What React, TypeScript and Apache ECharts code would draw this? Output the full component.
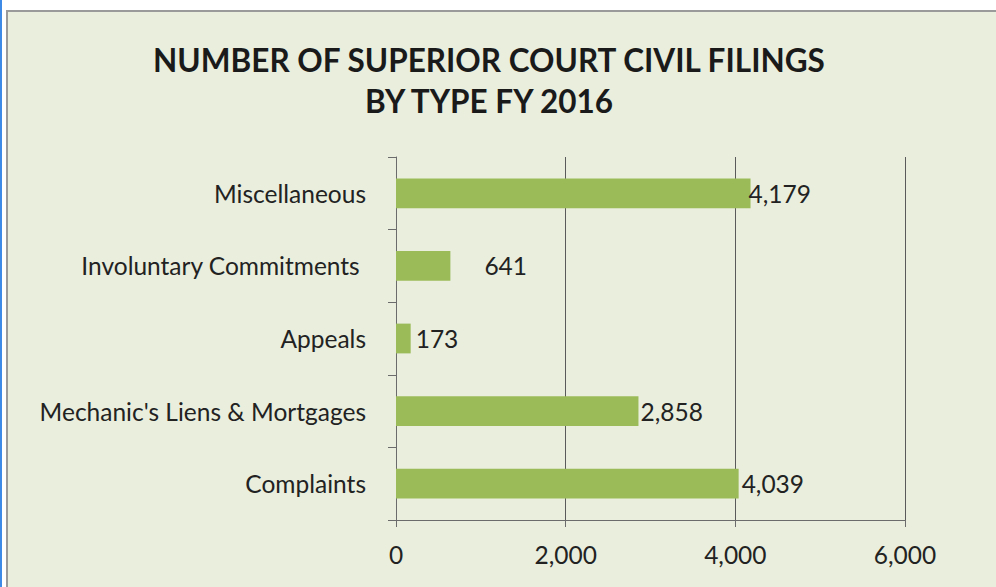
import React, { useEffect, useRef } from "react";
import * as echarts from "echarts";

const categories = [
  "Complaints",
  "Mechanic's Liens & Mortgages",
  "Appeals",
  "Involuntary Commitments ",
  "Miscellaneous",
];
const values = [4039, 2858, 173, 641, 4179];
const xTicks = { min: 0, max: 6000, interval: 2000 };
const titleLines = ["NUMBER OF SUPERIOR COURT CIVIL FILINGS", "BY TYPE FY 2016"];

const FONT = "Lato, 'Open Sans', sans-serif";

export default function App() {
  const ref = useRef<HTMLDivElement>(null);
  useEffect(() => {
    document.body.style.margin = "0";
    if (!ref.current) return;
    const chart = echarts.init(ref.current, undefined, { renderer: "svg" });
    const labelDistance = [3, 2, 5, 34, -2];
    chart.setOption({
      animation: false,
      backgroundColor: "transparent",
      title: {
        text: titleLines.join("\n"),
        left: 484,
        textAlign: "center",
        top: 34,
        textStyle: {
          fontFamily: FONT,
          fontWeight: "bold",
          fontSize: 31.5,
          lineHeight: 41,
          color: "#1a1a1a",
        },
      },
      grid: { left: 396, right: 91, top: 157, bottom: 67 },
      xAxis: {
        type: "value",
        min: xTicks.min,
        max: xTicks.max,
        interval: xTicks.interval,
        axisLine: { show: true, lineStyle: { color: "#6b6b6b", width: 1 } },
        axisTick: { show: true, length: 7, lineStyle: { color: "#6b6b6b" } },
        splitLine: { show: true, lineStyle: { color: "#5a5a5a", width: 1 } },
        axisLabel: {
          margin: 22,
          fontFamily: FONT,
          fontSize: 24.5,
          color: "#222",
          formatter: (v: number) => v.toLocaleString("en-US"),
        },
      },
      yAxis: {
        type: "category",
        data: categories,
        axisLine: { show: true, lineStyle: { color: "#6b6b6b", width: 1 } },
        axisTick: { show: true, length: 8, lineStyle: { color: "#6b6b6b" } },
        axisLabel: {
          margin: 30,
          fontFamily: FONT,
          fontSize: 24.5,
          color: "#222",
        },
      },
      series: [
        {
          type: "bar",
          barWidth: "41%",
          data: values.map((v, i) => ({
            value: v,
            label: { distance: labelDistance[i] },
          })),
          itemStyle: { color: "#9bbb59" },
          label: {
            show: true,
            position: "right",
            fontFamily: FONT,
            fontSize: 24.5,
            color: "#222",
            formatter: (p: any) => Number(p.value).toLocaleString("en-US"),
          },
        },
      ],
    });
    return () => chart.dispose();
  }, []);

  return (
    <div style={{ position: "relative", width: 996, height: 587, background: "#ffffff", overflow: "hidden" }}>
      <div style={{ position: "absolute", left: 0, top: 0, width: 2, height: 587, background: "#3d8ae6" }} />
      <div
        style={{
          position: "absolute",
          left: 6,
          top: 10,
          width: 1000,
          height: 600,
          background: "#e9eedd",
          borderLeft: "2px solid #9a9a9a",
          borderTop: "2px solid #9a9a9a",
        }}
      />
      <div ref={ref} style={{ position: "absolute", left: 0, top: 0, width: 996, height: 587 }} />
    </div>
  );
}
